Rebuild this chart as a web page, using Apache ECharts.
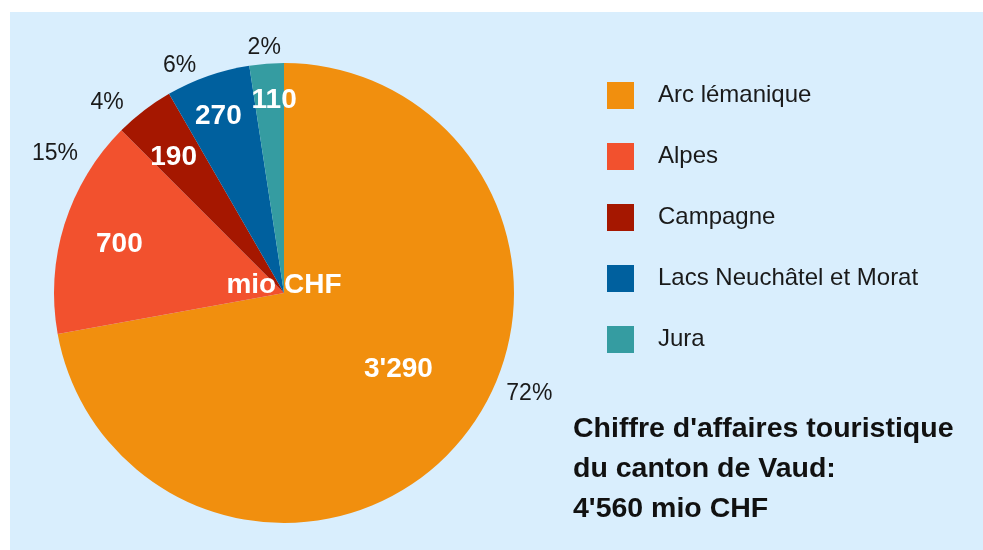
<!DOCTYPE html>
<html>
<head>
<meta charset="utf-8">
<title>Chiffre d'affaires touristique du canton de Vaud</title>
<script src="https://cdn.jsdelivr.net/npm/echarts@6/dist/echarts.min.js"></script>
<style>
  html, body { margin: 0; padding: 0; background: #fff; }
  #chart { width: 983px; height: 550px; }
</style>
</head>
<body>
<div id="chart"></div>
<script>
  // data
  const regions = ['Arc lémanique', 'Alpes', 'Campagne', 'Lacs Neuchâtel et Morat', 'Jura']
  const turnover = [3290, 700, 190, 270, 110]
  const unit = 'mio CHF'
  const titleLines = ["Chiffre d'affaires touristique", 'du canton de Vaud:']

  // style
  const font = '"Liberation Sans", Arial, sans-serif'
  const colors = ['#f18f0e', '#f2512e', '#a51700', '#00609e', '#359ca1']
  const center = [284, 293]
  const radius = 230
  // small hand nudges so the labels sit where the original put them
  const valueNudge = [[-26, -41], [10, 6], [1, 9], [-5, -4], [4, -10]]
  const pctNudge = [[45, -67], [20, -61], [-18, 17], [-18, 19], [0, 15]]

  const total = turnover.reduce((a, b) => a + b, 0)
  const swiss = (v) => String(v).replace(/\B(?=(\d{3})+(?!\d))/g, "'")

  const pieData = regions.map((name, i) => ({
    name: name,
    value: turnover[i],
    itemStyle: { color: colors[i] },
  }))
  const ghostData = regions.map((name, i) => ({
    name: name,
    value: turnover[i],
    itemStyle: { color: 'rgba(0,0,0,0)' },
  }))

  const chart = echarts.init(document.getElementById('chart'))
  chart.setOption({
    animation: false,
    textStyle: { fontFamily: font },
    graphic: [
      {
        type: 'rect',
        z: -100,
        shape: { x: 10, y: 12, width: 973, height: 538 },
        style: { fill: '#d9eefd' },
      },
      {
        type: 'text',
        z: 100,
        x: center[0],
        y: center[1] - 8,
        style: {
          text: unit,
          fill: '#fff',
          font: 'bold 28px ' + font,
          textAlign: 'center',
          textVerticalAlign: 'middle',
        },
      },
    ],
    title: {
      text: titleLines.join('\n') + '\n' + swiss(total) + ' ' + unit,
      left: 573,
      top: 409,
      padding: 0,
      textStyle: {
        fontFamily: font,
        fontSize: 28.5,
        fontWeight: 'bold',
        lineHeight: 40,
        color: '#111',
      },
    },
    legend: {
      orient: 'vertical',
      left: 607,
      top: 82,
      padding: 0,
      icon: 'rect',
      itemWidth: 27,
      itemHeight: 27,
      itemGap: 34,
      selectedMode: false,
      data: regions,
      textStyle: {
        fontFamily: font,
        fontSize: 24,
        color: '#1a1a1a',
        padding: [4, 0, 0, 19],
      },
    },
    series: [
      {
        name: 'turnover',
        type: 'pie',
        center: center,
        radius: [0, radius],
        startAngle: 90,
        clockwise: true,
        label: { show: false },
        labelLine: { show: false },
        emphasis: { disabled: true },
        data: pieData,
      },
      {
        name: 'values',
        type: 'pie',
        silent: true,
        center: center,
        radius: [0, 360],
        startAngle: 90,
        clockwise: true,
        z: 3,
        emphasis: { disabled: true },
        labelLine: { show: false },
        label: {
          show: true,
          position: 'inside',
          color: '#fff',
          fontFamily: font,
          fontSize: 28,
          fontWeight: 'bold',
          formatter: (p) => swiss(p.value),
        },
        labelLayout: (p) => ({ dx: valueNudge[p.dataIndex][0], dy: valueNudge[p.dataIndex][1] }),
        data: ghostData,
      },
      {
        name: 'percent',
        type: 'pie',
        silent: true,
        center: center,
        radius: [0, 516],
        startAngle: 90,
        clockwise: true,
        z: 3,
        emphasis: { disabled: true },
        labelLine: { show: false },
        label: {
          show: true,
          position: 'inside',
          color: '#1a1a1a',
          fontFamily: font,
          fontSize: 23,
          formatter: (p) => Math.round((p.value / total) * 100) + '%',
        },
        labelLayout: (p) => ({ dx: pctNudge[p.dataIndex][0], dy: pctNudge[p.dataIndex][1] }),
        data: ghostData,
      },
    ],
  })
</script>
</body>
</html>
